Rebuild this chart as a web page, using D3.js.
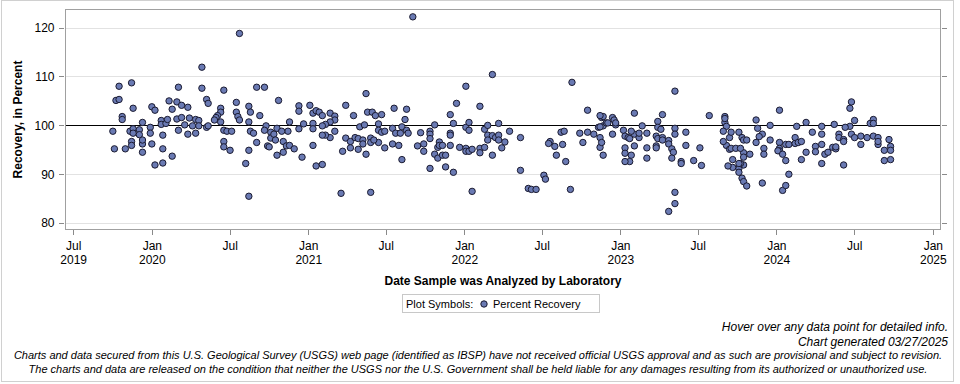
<!DOCTYPE html>
<html>
<head>
<meta charset="utf-8">
<script src="https://cdn.jsdelivr.net/npm/d3@7"></script>
<style>
  body { margin: 0; background: #fff; }
  text { font-family: "Liberation Sans", Arial, sans-serif; }
</style>
</head>
<body>
<script>
// sample date (decimal year) and percent recovery
var samples = [
  [2019.79,108.0],[2019.87,108.7],[2019.77,105.1],[2019.79,105.3],[2019.88,103.5],[2020.00,103.8],[2020.02,103.1],[2020.11,105.0],
  [2019.81,101.8],[2019.81,101.2],[2019.75,98.8],[2019.76,95.2],[2019.83,95.2],[2019.86,98.8],[2019.88,99.3],[2019.88,98.4],
  [2019.92,99.1],[2019.92,98.1],[2019.94,100.6],[2019.94,96.2],[2019.94,94.5],[2019.94,97.0],[2019.87,96.7],[2019.87,95.9],
  [2019.99,99.6],[2019.99,98.4],[2020.00,96.2],[2020.07,98.0],[2020.07,95.2],[2020.07,92.3],[2020.06,101.0],[2020.06,100.2],
  [2020.09,100.4],[2020.10,101.2],[2020.02,91.9],
  [2020.56,118.8],[2020.32,111.9],[2020.17,107.8],[2020.32,107.6],[2020.46,107.2],[2020.67,107.8],[2020.72,107.8],[2020.16,104.8],
  [2020.19,104.1],[2020.23,103.7],[2020.13,103.3],[2020.35,105.3],[2020.36,104.5],[2020.54,104.7],[2020.62,103.9],[2020.63,102.7],
  [2020.69,102.0],[2020.81,105.1],[2020.44,103.5],[2020.44,102.7],[2020.42,102.0],[2020.41,101.6],[2020.40,101.1],[2020.44,100.7],
  [2020.54,102.7],[2020.55,101.8],[2020.56,101.1],[2020.62,100.7],[2020.16,101.3],[2020.19,101.6],[2020.24,101.5],[2020.28,101.2],
  [2020.30,101.0],[2020.21,100.1],[2020.26,99.9],[2020.30,99.9],[2020.35,99.6],[2020.36,99.9],[2020.17,99.0],[2020.23,98.2],
  [2020.28,98.4],[2020.13,93.7],[2020.46,99.0],[2020.48,98.8],[2020.51,98.8],[2020.46,96.7],[2020.46,95.6],[2020.50,94.9],
  [2020.62,94.9],[2020.60,92.2],[2020.62,85.5],[2020.63,98.8],[2020.65,98.4],[2020.67,96.5],[2020.73,99.9],[2020.72,99.0],
  [2020.76,98.6],[2020.76,97.4],[2020.78,98.2],[2020.79,97.0],[2020.80,99.4],[2020.80,93.9],[2020.74,95.8],[2020.75,95.6],
  [2020.94,104.0],[2020.94,102.9],[2020.94,99.3],[2021.01,104.1],[2021.03,102.5],[2021.03,100.4],[2021.03,99.3],[2021.03,95.9],
  [2021.05,103.0],[2021.05,91.7],[2021.07,102.7],[2021.09,102.0],[2021.14,102.5],[2021.17,101.9],[2021.17,101.1],[2021.17,98.8],
  [2021.14,100.7],[2021.14,97.5],[2021.11,100.2],[2021.11,98.0],[2021.09,99.9],[2021.09,92.0],[2021.09,98.0],[2020.97,100.3],
  [2020.88,100.7],[2020.87,98.8],[2020.83,98.8],[2020.84,96.7],[2020.84,94.5],[2020.86,95.8],[2020.88,95.9],[2020.91,95.2],
  [2020.96,93.5],[2021.21,86.1],[2021.24,104.1],[2021.29,102.0],[2021.22,94.7],[2021.24,97.4],[2021.27,96.7],[2021.27,95.4],
  [2021.30,97.5],[2021.32,97.3],[2021.32,95.1],[2021.33,99.7],[2021.35,97.0],[2021.35,96.2],[2021.36,100.1],[2021.37,106.5],
  [2021.37,94.1],[2021.38,102.7],[2021.40,86.3],[2021.41,102.7],[2021.43,102.0],[2021.47,102.2],[2021.45,100.3],[2021.45,99.0],
  [2021.45,96.5],[2021.40,97.4],[2021.40,96.5],[2021.42,97.0],[2021.47,98.6],[2021.49,98.8],[2021.49,95.4],
  [2021.67,122.2],[2021.55,103.5],[2021.63,103.3],[2021.62,101.2],[2021.54,99.4],[2021.54,96.2],[2021.60,99.7],[2021.60,93.0],
  [2021.56,98.4],[2021.59,98.4],[2021.63,99.0],[2021.64,98.4],[2021.58,95.9],[2021.70,95.8],[2021.72,98.5],[2021.74,96.2],
  [2021.74,94.7],[2021.78,98.8],[2021.78,91.2],[2021.78,98.2],[2021.78,97.3],[2021.81,100.1],[2021.81,94.1],[2021.83,93.3],
  [2021.83,95.5],[2021.84,96.6],[2021.84,95.9],[2021.86,95.9],[2021.86,93.9],[2021.88,93.9],[2021.88,91.5],[2021.91,102.2],
  [2021.91,98.4],[2021.91,98.0],[2021.91,95.9],[2021.93,100.4],[2021.93,90.4],[2021.95,104.5],[2021.97,95.5],[2022.01,108.0],
  [2022.01,99.6],[2022.01,95.3],[2022.01,94.7],[2022.03,100.6],[2022.03,99.0],[2022.03,94.7],[2022.05,95.1],[2022.05,86.5],
  [2022.10,103.9],[2022.10,95.3],[2022.10,94.4],[2022.13,95.5],[2022.13,99.2],[2022.15,100.0],[2022.15,98.0],[2022.15,97.0],
  [2022.18,93.9],[2022.18,110.4],[2022.18,97.9],[2022.20,97.5],[2022.22,98.0],[2022.22,97.0],[2022.22,100.4],
  [2022.26,96.6],[2022.24,95.4],[2022.29,98.8],[2022.36,97.5],[2022.36,90.8],[2022.41,87.1],[2022.43,86.9],[2022.46,86.9],
  [2022.51,89.8],[2022.52,89.0],[2022.55,96.7],[2022.54,96.3],[2022.58,95.7],[2022.59,93.9],[2022.62,98.6],[2022.64,98.8],
  [2022.63,96.1],[2022.65,92.6],[2022.69,108.8],[2022.68,86.9],[2022.74,98.4],[2022.76,96.5],[2022.79,103.1],[2022.79,98.6],
  [2022.83,98.2],[2022.86,99.6],[2022.87,97.5],[2022.87,95.5],[2022.88,96.5],[2022.88,101.6],[2022.89,93.9],[2022.89,101.8],
  [2022.89,99.9],[2022.87,102.0],[2022.87,99.7],[2022.91,100.5],[2022.92,100.5],
  [2022.95,101.6],[2022.95,98.2],[2022.96,101.1],[2022.97,100.1],[2022.97,100.5],[2023.09,102.5],[2023.09,98.2],[2023.09,95.8],
  [2023.02,99.0],[2023.03,97.8],[2023.03,95.4],[2023.03,94.3],[2023.05,97.5],[2023.06,97.3],[2023.06,92.6],[2023.07,98.8],
  [2023.07,93.9],[2023.12,97.5],[2023.12,98.4],[2023.14,99.9],[2023.17,98.4],[2023.17,95.4],[2023.17,93.3],[2023.03,92.6],
  [2023.23,97.8],[2023.23,95.8],[2023.23,95.4],[2023.24,97.3],[2023.24,100.8],[2023.24,99.6],[2023.26,99.2],[2023.27,102.2],
  [2023.27,97.5],[2023.27,97.0],[2023.31,96.9],[2023.31,82.4],[2023.31,96.2],[2023.33,95.2],[2023.34,94.5],[2023.33,93.3],
  [2023.35,107.0],[2023.35,99.4],[2023.35,86.3],[2023.35,84.0],[2023.35,98.2],[2023.39,92.6],[2023.39,92.2],[2023.42,98.6],
  [2023.42,95.9],[2023.47,92.8],[2023.51,95.4],[2023.52,91.8],[2023.57,102.0],
  [2023.67,101.8],[2023.67,100.6],[2023.67,101.4],[2023.68,99.8],[2023.68,95.9],[2023.66,98.8],[2023.66,96.7],[2023.70,95.1],
  [2023.70,97.5],[2023.71,98.6],[2023.71,95.3],[2023.76,98.6],[2023.76,91.2],[2023.76,90.4],[2023.78,97.5],[2023.78,89.2],
  [2023.79,97.0],[2023.79,94.4],[2023.79,93.5],[2023.79,91.9],[2023.79,88.5],[2023.81,97.0],[2023.74,95.3],[2023.77,95.3],
  [2023.77,92.2],[2023.83,94.1],[2023.72,93.0],[2023.72,91.4],[2023.69,91.7],[2023.76,92.2],[2023.81,87.6],[2023.87,101.1],
  [2023.88,99.4],[2023.91,98.2],[2023.91,88.2],[2023.89,97.7],[2023.87,96.5],[2023.92,95.3],[2023.92,94.1],[2023.96,100.0],
  [2023.96,97.0],[2024.02,103.1],[2024.02,96.5],[2024.02,95.3],[2024.02,94.8],[2024.01,94.8],[2024.04,94.1],[2024.04,86.7],
  [2024.06,92.8],[2024.06,96.1],[2024.06,87.7],[2024.08,96.1],[2024.08,90.0],[2024.12,97.5],[2024.12,96.3],[2024.14,96.5],
  [2024.16,96.7],[2024.16,93.0],[2024.13,99.8],[2024.19,100.6],[2024.19,94.5],[2024.23,98.6],[2024.25,95.7],[2024.25,94.6],
  [2024.29,99.8],[2024.29,98.2],[2024.29,92.2],[2024.29,96.1],[2024.31,94.1],[2024.33,94.5],
  [2024.36,95.5],[2024.38,95.2],[2024.38,95.6],[2024.37,100.2],[2024.40,98.2],[2024.40,97.5],[2024.43,97.1],[2024.43,96.7],
  [2024.43,91.9],[2024.47,103.5],[2024.47,99.8],[2024.48,104.8],[2024.48,98.2],[2024.44,99.6],[2024.50,101.0],[2024.50,97.5],
  [2024.54,97.8],[2024.58,97.5],[2024.62,97.8],[2024.62,101.2],[2024.65,97.5],[2024.65,96.1],[2024.54,96.1],[2024.60,100.4],
  [2024.62,100.4],[2024.65,96.7],[2024.72,97.1],[2024.69,94.9],[2024.73,95.7],[2024.73,94.9],[2024.73,93.0],[2024.69,92.8]
];

var yTicks = [80, 90, 100, 110, 120];
var xTicks = ["2019-07", "2020-01", "2020-07", "2021-01", "2021-07", "2022-01",
              "2022-07", "2023-01", "2023-07", "2024-01", "2024-07", "2025-01"];
var referenceValue = 100;

var svgW = 960, svgH = 384;
var plot = {left: 65.5, right: 940.5, top: 9.5, bottom: 229.5};

// decimal year -> Date
function toDate(y) {
    var yr = Math.floor(y);
    var a = new Date(yr, 0, 1), b = new Date(yr + 1, 0, 1);
    return new Date(+a + (y - yr) * (b - a));
}
var parseMonth = d3.timeParse("%Y-%m");

var x = d3.scaleTime()
    .domain([new Date(2019, 5, 13), new Date(2025, 0, 19)])
    .range([plot.left, plot.right]);

var y = d3.scaleLinear()
    .domain([78.7, 123.7])
    .range([plot.bottom, plot.top]);

var svg = d3.select("body")
    .append("svg")
    .attr("width", svgW)
    .attr("height", svgH);

// outer border
svg.append("rect")
    .attr("x", 1.5).attr("y", 0.5)
    .attr("width", 952).attr("height", 381)
    .style("fill", "#fff")
    .style("stroke", "#d0d0d0");

//grid lines
svg.append("g")
    .selectAll("line")
    .data(yTicks)
    .enter().append("line")
    .attr("x1", plot.left).attr("x2", plot.right)
    .attr("y1", function (d) { return Math.round(y(d)) + 0.5; })
    .attr("y2", function (d) { return Math.round(y(d)) + 0.5; })
    .style("stroke", "#e2e2e2");

//reference line at 100 percent
svg.append("line")
    .attr("x1", plot.left).attr("x2", plot.right)
    .attr("y1", Math.round(y(referenceValue)) + 0.5)
    .attr("y2", Math.round(y(referenceValue)) + 0.5)
    .style("stroke", "#000");

//left axis, with a small gap to the frame
var yAxis = svg.append("g")
    .attr("transform", "translate(" + (plot.left - 2) + ",0)")
    .call(d3.axisLeft(y).tickValues(yTicks).tickSize(5).tickPadding(4));
yAxis.select(".domain").remove();

//right axis ticks, no labels
var yAxisR = svg.append("g")
    .attr("transform", "translate(" + (plot.right + 1) + ",0)")
    .call(d3.axisRight(y).tickValues(yTicks).tickSize(5).tickFormat(""));
yAxisR.select(".domain").remove();

//bottom axis
var xAxis = svg.append("g")
    .attr("transform", "translate(0," + plot.bottom + ")")
    .call(d3.axisBottom(x)
        .tickValues(xTicks.map(parseMonth))
        .tickSize(5)
        .tickFormat(""));
xAxis.select(".domain").remove();

[yAxis, yAxisR, xAxis].forEach(function (g) {
    g.selectAll(".tick line").style("stroke", "#8a8a8a").attr("shape-rendering", "crispEdges");
});
yAxis.selectAll(".tick text")
    .style("font-size", "12px")
    .style("fill", "#000");

//two line tick labels
xAxis.selectAll(".tick")
    .append("text")
    .attr("text-anchor", "middle")
    .style("fill", "#000")
    .style("font-size", "12px")
    .each(function (d, i) {
        var t = d3.select(this);
        t.append("tspan").attr("x", 0).attr("y", 20).text(d3.timeFormat("%b")(d));
        if (i === 0 || d.getMonth() === 0) {
            t.append("tspan").attr("x", 0).attr("y", 34).text(d3.timeFormat("%Y")(d));
        }
    });

//plot frame
svg.append("rect")
    .attr("x", plot.left).attr("y", plot.top)
    .attr("width", plot.right - plot.left)
    .attr("height", plot.bottom - plot.top)
    .style("fill", "none")
    .style("stroke", "#a0a0a0");

//the points
svg.append("g")
    .selectAll("circle")
    .data(samples)
    .enter().append("circle")
    .attr("cx", function (d) { return x(toDate(d[0])); })
    .attr("cy", function (d) { return y(d[1]); })
    .attr("r", 3.2)
    .style("fill", "#6a7ab3")
    .style("stroke", "#1a1a30")
    .style("stroke-width", 1);

//axis titles
svg.append("text")
    .attr("x", (plot.left + plot.right) / 2)
    .attr("y", 285)
    .attr("text-anchor", "middle")
    .style("font-size", "12px")
    .style("font-weight", "bold")
    .text("Date Sample was Analyzed by Laboratory");

svg.append("text")
    .attr("transform", "translate(22," + (plot.top + plot.bottom) / 2 + ") rotate(-90)")
    .attr("text-anchor", "middle")
    .style("font-size", "12px")
    .style("font-weight", "bold")
    .text("Recovery, in Percent");

//legend
var legend = svg.append("g");
legend.append("rect")
    .attr("x", 402.5).attr("y", 294.5)
    .attr("width", 197).attr("height", 18)
    .style("fill", "#fff")
    .style("stroke", "#c8c8c8");
legend.append("text")
    .attr("x", 406).attr("y", 308)
    .style("font-size", "11px")
    .text("Plot Symbols:");
legend.append("circle")
    .attr("cx", 484).attr("cy", 304)
    .attr("r", 3.2)
    .style("fill", "#6a7ab3")
    .style("stroke", "#1a1a30");
legend.append("text")
    .attr("x", 493).attr("y", 308)
    .style("font-size", "11px")
    .text("Percent Recovery");

//footer notes
var notes = [
    {t: "Hover over any data point for detailed info.", y: 331},
    {t: "Chart generated 03/27/2025", y: 346}
];
svg.selectAll(".note")
    .data(notes)
    .enter().append("text")
    .attr("class", "note")
    .attr("x", 948).attr("y", function (d) { return d.y; })
    .attr("text-anchor", "end")
    .style("font-size", "12px")
    .style("font-style", "italic")
    .text(function (d) { return d.t; });

var disclaimer = [
    "Charts and data secured from this U.S. Geological Survey (USGS) web page (identified as IBSP) have not received official USGS approval and as such are provisional and subject to revision.",
    "The charts and data are released on the condition that neither the USGS nor the U.S. Government shall be held liable for any damages resulting from its authorized or unauthorized use."
];
svg.selectAll(".disc")
    .data(disclaimer)
    .enter().append("text")
    .attr("class", "disc")
    .attr("x", 478)
    .attr("y", function (d, i) { return 359 + i * 14; })
    .attr("text-anchor", "middle")
    .style("font-size", "11px")
    .style("font-style", "italic")
    .text(function (d) { return d; });
</script>
</body>
</html>
